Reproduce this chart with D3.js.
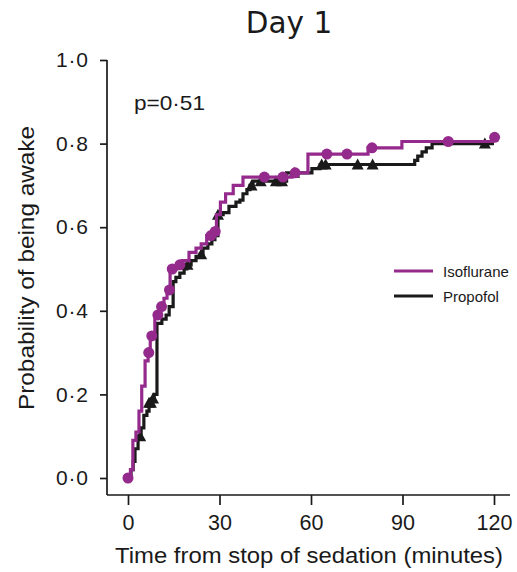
<!DOCTYPE html>
<html>
<head>
<meta charset="utf-8">
<script src="https://cdn.jsdelivr.net/npm/d3@7"></script>
<style>
  body { margin: 0; background: #fff; }
  text { font-family: "Liberation Sans", Arial, sans-serif; fill: #1a1a1a; }
</style>
</head>
<body>
<div id="chart"></div>
<script>
/**
 * CONSTANTS AND GLOBALS
 * */
const width = 517,
  height = 572,
  margin = { top: 60, bottom: 94, left: 128, right: 23 };

// Isoflurane: step times (minutes) and probability after each step
const isoTime = [0, 0.8, 1.6, 2.6, 3.6, 4.5, 5.6, 6.6, 7.3, 8.8, 10.2, 11.8, 12.8, 13.8, 16.0, 17.8, 20.0, 22.3, 24.0, 25.8, 27.5, 29.0, 30.3, 32.0, 34.5, 37.7, 53.8, 59.0, 78.7, 89.8, 119.5];
const isoProb = [0, 0.02, 0.09, 0.11, 0.16, 0.22, 0.28, 0.30, 0.34, 0.39, 0.41, 0.43, 0.45, 0.50, 0.51, 0.52, 0.54, 0.55, 0.56, 0.58, 0.59, 0.63, 0.66, 0.68, 0.70, 0.72, 0.73, 0.775, 0.79, 0.805, 0.815];
const isoCensor = [0, 6.8, 7.8, 9.8, 11.0, 13.6, 14.5, 17.0, 27.2, 28.6, 44.7, 50.8, 54.8, 65.2, 71.8, 80.0, 105.0, 120.2];

// Propofol
const propTime = [0, 1.0, 1.7, 2.3, 3.3, 4.3, 5.2, 6.2, 6.9, 7.9, 8.6, 9.5, 11.1, 12.5, 13.5, 14.8, 15.7, 17.0, 18.4, 19.3, 20.7, 22.3, 23.6, 24.6, 26.2, 27.5, 28.5, 29.5, 31.2, 33.1, 35.4, 36.7, 37.7, 39.0, 40.0, 41.0, 52.0, 60.3, 63.0, 94.0, 95.0, 96.4, 97.8, 99.7];
const propProb = [0, 0.02, 0.04, 0.07, 0.10, 0.12, 0.15, 0.16, 0.18, 0.19, 0.20, 0.37, 0.38, 0.39, 0.41, 0.47, 0.48, 0.49, 0.50, 0.51, 0.52, 0.53, 0.535, 0.55, 0.56, 0.57, 0.58, 0.63, 0.635, 0.65, 0.66, 0.665, 0.68, 0.69, 0.70, 0.71, 0.73, 0.74, 0.75, 0.76, 0.77, 0.78, 0.79, 0.80];
const propCensor = [4.0, 6.9, 7.5, 8.2, 19.5, 24.0, 29.5, 40.5, 43.5, 48.5, 50.5, 54.5, 63.5, 64.8, 75.3, 80.2, 117.0];

const xTicks = [0, 30, 60, 90, 120];
const yTicks = [0, 0.2, 0.4, 0.6, 0.8, 1.0];
const groups = ["Isoflurane", "Propofol"];
const colors = { Isoflurane: "#952a8d", Propofol: "#1a1a1a" };

/**
 * SCALES
 * */
const x = d3.scaleLinear().domain([0, 120]).range([margin.left, width - margin.right]);
const y = d3.scaleLinear().domain([0, 1]).range([height - margin.bottom, margin.top]);

const svg = d3.select("#chart").append("svg")
  .attr("width", width)
  .attr("height", height);

const axisX0 = 107, axisY0 = 495;

// title
svg.append("text")
  .attr("x", 289).attr("y", 33)
  .attr("text-anchor", "middle")
  .style("font-family", "'DejaVu Sans', Verdana, sans-serif")
  .style("font-size", "29.5px")
  .text("Day 1");

// y axis
const yAxis = d3.axisLeft(y)
  .tickValues(yTicks)
  .tickSizeOuter(0)
  .tickSize(7)
  .tickPadding(12)
  .tickFormat(d => d3.format(".1f")(d).replace(".", "·"));
const gy = svg.append("g").attr("transform", `translate(${axisX0},0)`).call(yAxis);
gy.select(".domain").remove();
gy.append("line").attr("x1", 0).attr("x2", 0).attr("y1", y(1)).attr("y2", axisY0)
  .attr("stroke", "#1a1a1a").attr("stroke-width", 1.7);
gy.selectAll(".tick line").attr("stroke", "#1a1a1a").attr("stroke-width", 1.7);
gy.selectAll(".tick text")
  .style("font-size", "21px")
  .style("font-family", "'Liberation Sans', Arial, sans-serif")
  .attr("fill", "#1a1a1a")
  .attr("textLength", 32)
  .attr("lengthAdjust", "spacing");

// x axis
const xAxis = d3.axisBottom(x).tickValues(xTicks).tickSize(10).tickPadding(10).tickSizeOuter(0);
const gx = svg.append("g").attr("transform", `translate(0,${axisY0})`).call(xAxis);
gx.select(".domain").remove();
gx.append("line").attr("x1", axisX0).attr("x2", 510).attr("y1", 0).attr("y2", 0)
  .attr("stroke", "#1a1a1a").attr("stroke-width", 1.7);
gx.selectAll(".tick line").attr("stroke", "#1a1a1a").attr("stroke-width", 1.7);
gx.selectAll(".tick text").style("font-size", "21.5px").style("font-family", "'Liberation Sans', Arial, sans-serif").attr("fill", "#1a1a1a");

// axis titles
svg.append("text")
  .attr("x", 309).attr("y", 563)
  .attr("text-anchor", "middle")
  .attr("textLength", 388)
  .attr("lengthAdjust", "spacingAndGlyphs")
  .style("font-size", "21.5px")
  .text("Time from stop of sedation (minutes)");

svg.append("text")
  .attr("transform", "translate(34,268) rotate(-90)")
  .attr("text-anchor", "middle")
  .attr("textLength", 284)
  .attr("lengthAdjust", "spacingAndGlyphs")
  .style("font-size", "21.5px")
  .text("Probability of being awake");

svg.append("text")
  .attr("x", 134).attr("y", 110)
  .attr("textLength", 71)
  .attr("lengthAdjust", "spacingAndGlyphs")
  .style("font-size", "21px")
  .text("p=0·51");

/**
 * CURVES
 * */
function stepData(times, probs) {
  const pts = times.map((t, i) => [t, probs[i]]);
  pts.push([120, probs[probs.length - 1]]);
  return pts;
}
function probAt(times, probs, t) {
  const i = d3.bisectRight(times, t) - 1;
  return probs[Math.max(0, i)];
}

const line = d3.line()
  .x(d => x(d[0]))
  .y(d => y(d[1]))
  .curve(d3.curveStepAfter);

svg.append("path")
  .datum(stepData(propTime, propProb))
  .attr("fill", "none")
  .attr("stroke", colors.Propofol)
  .attr("stroke-width", 3.2)
  .attr("d", line);

svg.selectAll(".tri")
  .data(propCensor)
  .join("path")
  .attr("class", "tri")
  .attr("transform", d => `translate(${x(d)},${y(probAt(propTime, propProb, d))})`)
  .attr("d", "M0,-6L6,5L-6,5Z")
  .attr("fill", colors.Propofol);

svg.append("path")
  .datum(stepData(isoTime, isoProb))
  .attr("fill", "none")
  .attr("stroke", colors.Isoflurane)
  .attr("stroke-width", 3.2)
  .attr("d", line);

svg.selectAll(".dot")
  .data(isoCensor)
  .join("circle")
  .attr("class", "dot")
  .attr("cx", d => x(d))
  .attr("cy", d => y(probAt(isoTime, isoProb, d)))
  .attr("r", 5.5)
  .attr("fill", colors.Isoflurane);

/**
 * LEGEND
 * */
const legend = svg.selectAll(".legend")
  .data(groups)
  .join("g")
  .attr("class", "legend")
  .attr("transform", (d, i) => `translate(394,${271 + i * 25})`);
legend.append("line")
  .attr("x1", 0).attr("x2", 39)
  .attr("stroke", d => colors[d])
  .attr("stroke-width", 3);
legend.append("text")
  .attr("x", 49).attr("y", 6)
  .style("font-size", "15px")
  .text(d => d);
</script>
</body>
</html>
